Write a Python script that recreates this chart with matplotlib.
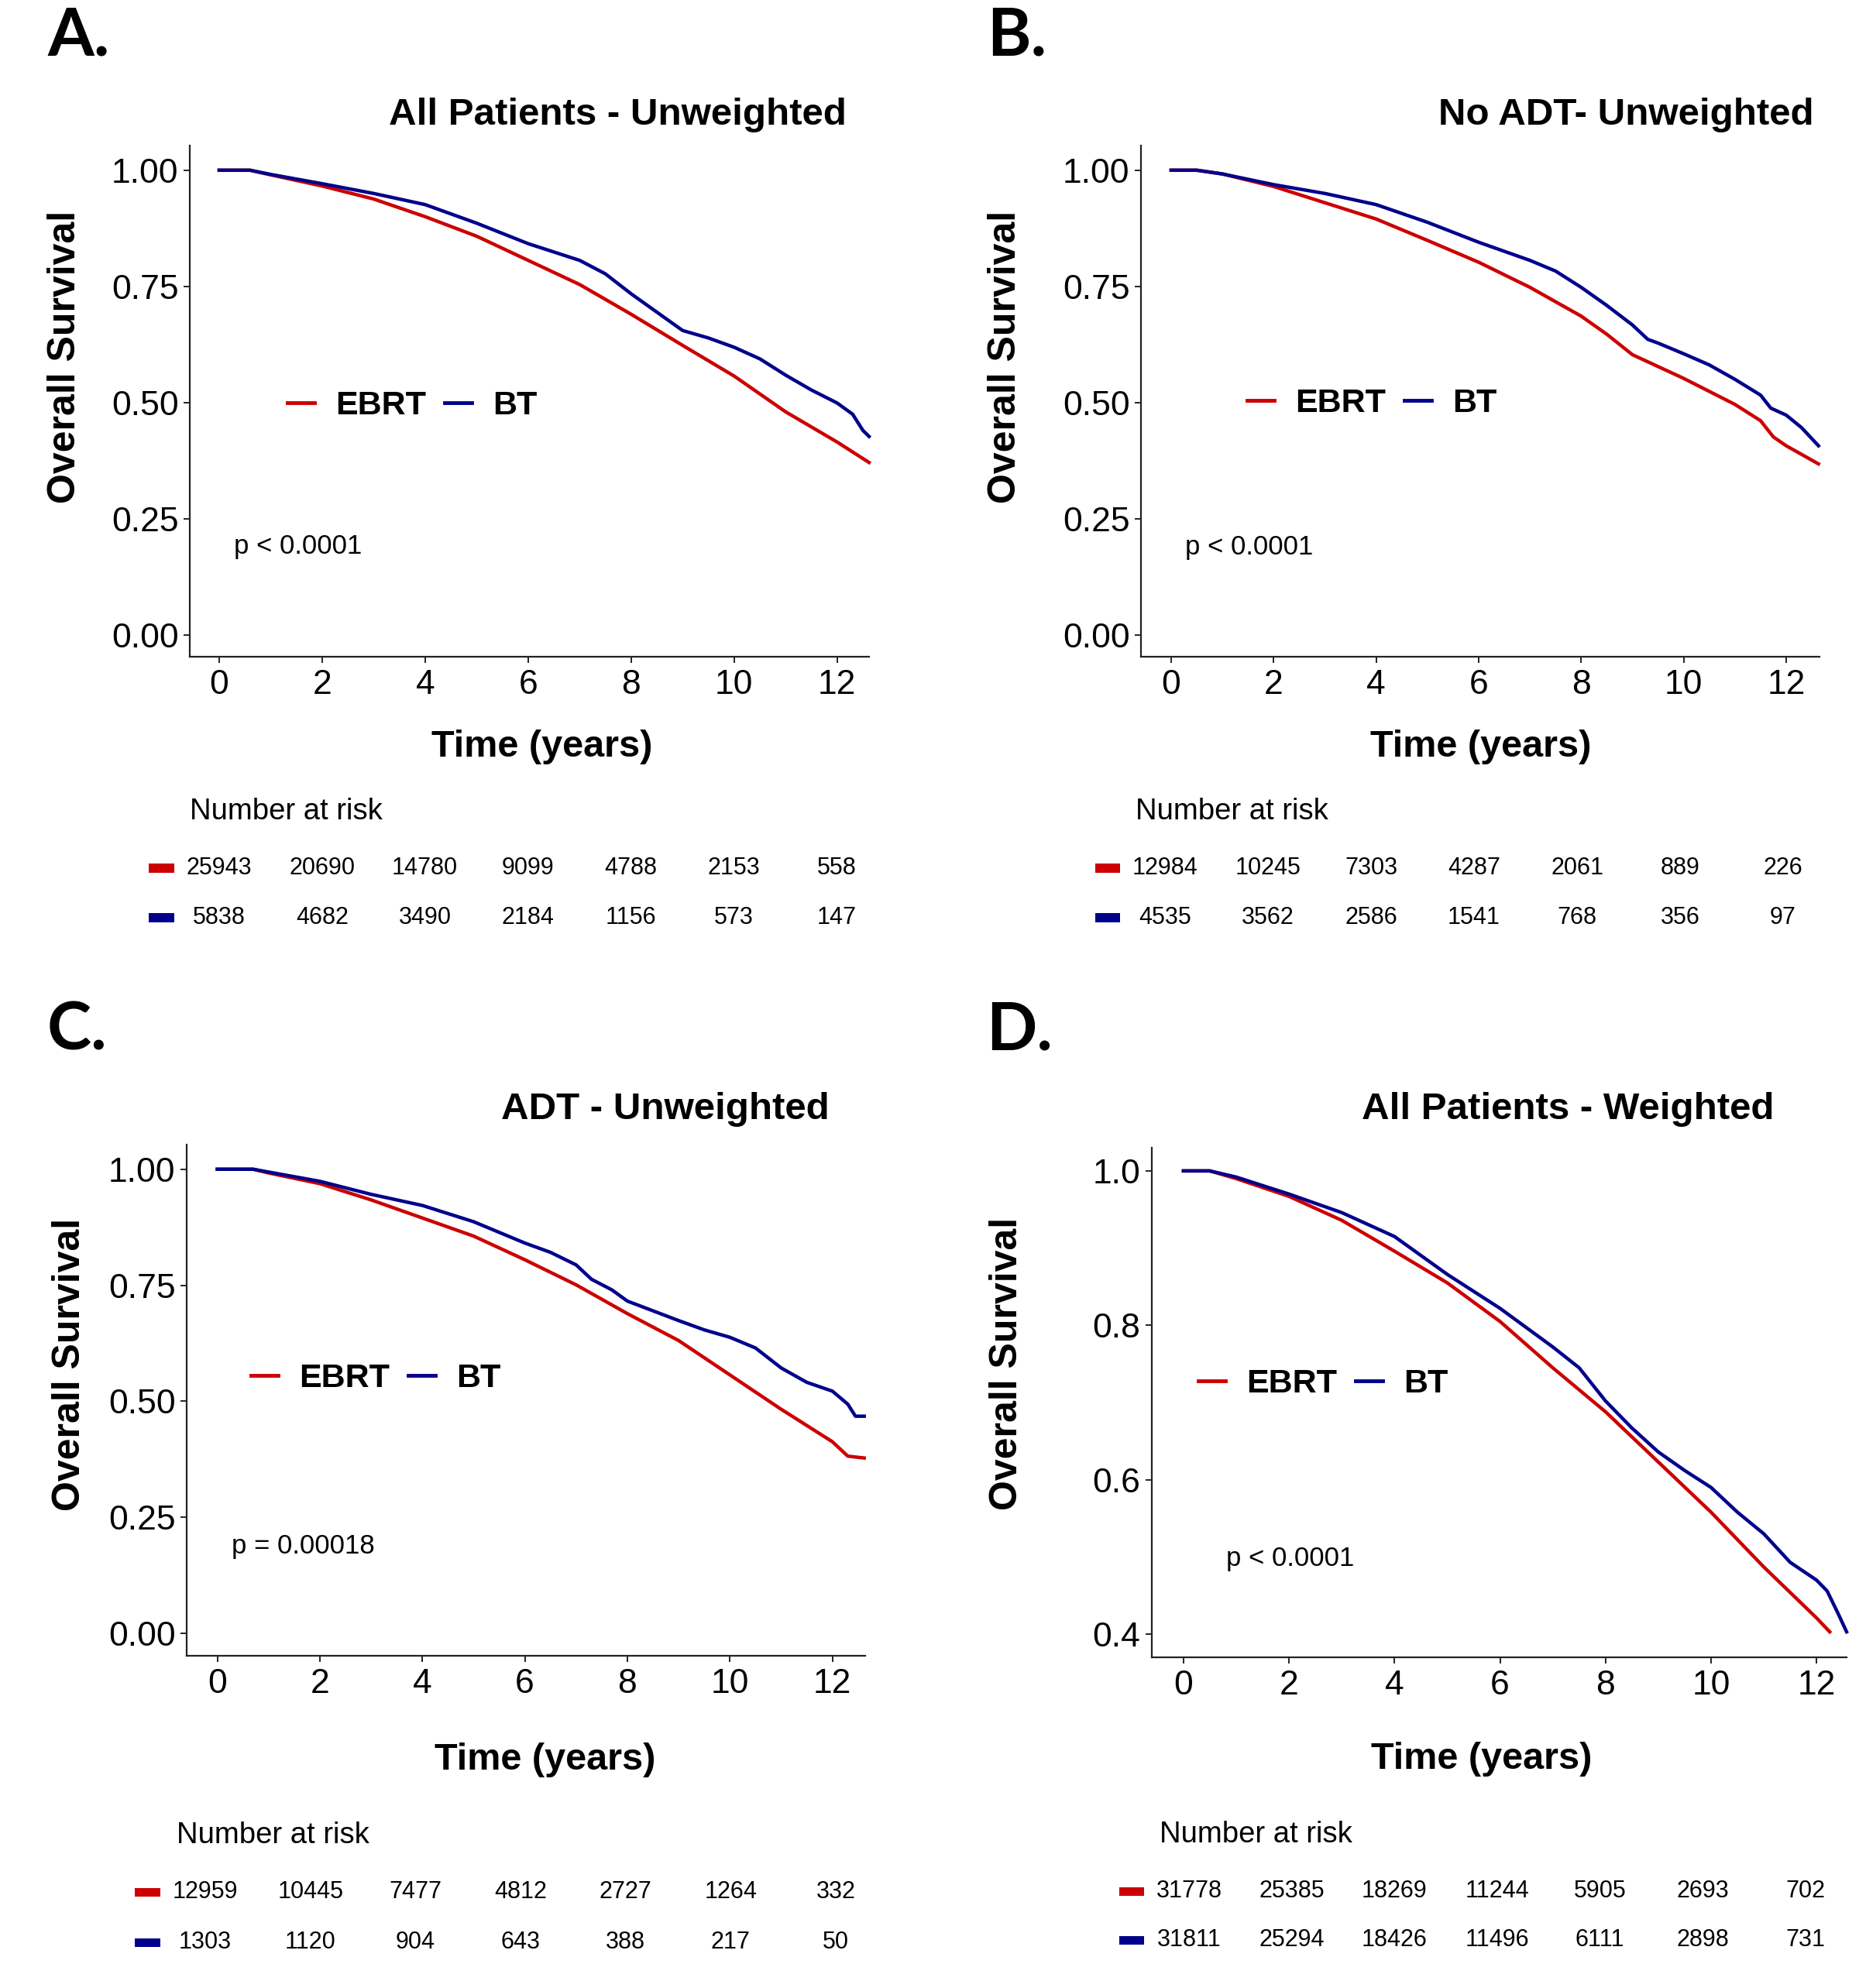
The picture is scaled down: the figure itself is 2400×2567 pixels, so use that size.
import matplotlib
matplotlib.use("Agg")
import matplotlib.pyplot as plt
from matplotlib.patches import Rectangle

# ---------------- data ----------------
risk_times = [0, 2, 4, 6, 8, 10, 12]
x_ticks = [0, 2, 4, 6, 8, 10, 12]
group_names = ["EBRT", "BT"]

titles = ["All Patients - Unweighted", "No ADT- Unweighted",
          "ADT - Unweighted", "All Patients - Weighted"]
panel_letters = ["A.", "B.", "C.", "D."]
p_texts = ["p < 0.0001", "p < 0.0001", "p = 0.00018", "p < 0.0001"]

yticks_unw = [0.00, 0.25, 0.50, 0.75, 1.00]
yticklabels_unw = ["0.00", "0.25", "0.50", "0.75", "1.00"]
yticks_w = [0.4, 0.6, 0.8, 1.0]
yticklabels_w = ["0.4", "0.6", "0.8", "1.0"]

# Panel A
A_ebrt_t = [0, 0.6, 1, 2, 3, 4, 5, 6, 7, 8, 9, 10, 11, 12, 12.62]
A_ebrt_s = [1, 1, 0.99, 0.966, 0.938, 0.90, 0.858, 0.806, 0.754, 0.69, 0.623, 0.557, 0.48, 0.415, 0.371]
A_bt_t = [0, 0.6, 1, 2, 3, 4, 5, 6, 7, 7.5, 8, 9, 9.5, 10, 10.5, 11, 11.5, 12, 12.3, 12.5, 12.62]
A_bt_s = [1, 1, 0.991, 0.971, 0.95, 0.926, 0.886, 0.842, 0.806, 0.777, 0.734, 0.655, 0.639, 0.619, 0.594,
          0.559, 0.527, 0.499, 0.475, 0.44, 0.427]
A_risk_ebrt = [25943, 20690, 14780, 9099, 4788, 2153, 558]
A_risk_bt = [5838, 4682, 3490, 2184, 1156, 573, 147]

# Panel B
B_ebrt_t = [0, 0.5, 1, 2, 3, 4, 5, 6, 7, 8, 8.5, 9, 10, 11, 11.5, 11.75, 12, 12.63]
B_ebrt_s = [1, 1, 0.992, 0.965, 0.93, 0.895, 0.849, 0.802, 0.748, 0.686, 0.647, 0.603, 0.552, 0.496,
            0.461, 0.426, 0.407, 0.368]
B_bt_t = [0, 0.5, 1, 2, 3, 4, 5, 6, 7, 7.5, 8, 8.5, 9, 9.3, 9.5, 10, 10.5, 11, 11.5, 11.7, 12, 12.3, 12.63]
B_bt_s = [1, 1, 0.992, 0.969, 0.95, 0.926, 0.888, 0.845, 0.806, 0.783, 0.748, 0.709, 0.667, 0.636,
          0.628, 0.605, 0.581, 0.550, 0.516, 0.488, 0.473, 0.446, 0.407]
B_risk_ebrt = [12984, 10245, 7303, 4287, 2061, 889, 226]
B_risk_bt = [4535, 3562, 2586, 1541, 768, 356, 97]

# Panel C
C_ebrt_t = [0, 0.7, 1, 2, 3, 4, 5, 6, 7, 8, 9, 10, 11, 11.5, 12, 12.3, 12.62]
C_ebrt_s = [1, 1, 0.992, 0.969, 0.934, 0.895, 0.856, 0.805, 0.751, 0.689, 0.631, 0.557, 0.483, 0.448,
            0.413, 0.382, 0.378]
C_bt_t = [0, 0.7, 1, 2, 3, 4, 5, 6, 6.5, 7, 7.3, 7.7, 8, 9, 9.5, 10, 10.5, 11, 11.5, 12, 12.3, 12.45, 12.62]
C_bt_s = [1, 1, 0.994, 0.974, 0.946, 0.922, 0.887, 0.841, 0.821, 0.794, 0.763, 0.740, 0.716, 0.674,
          0.654, 0.638, 0.615, 0.572, 0.541, 0.522, 0.494, 0.468, 0.468]
C_risk_ebrt = [12959, 10445, 7477, 4812, 2727, 1264, 332]
C_risk_bt = [1303, 1120, 904, 643, 388, 217, 50]

# Panel D
D_ebrt_t = [0, 0.5, 1, 2, 3, 4, 5, 6, 7, 8, 9, 10, 11, 12, 12.25]
D_ebrt_s = [1, 1, 0.990, 0.967, 0.936, 0.896, 0.855, 0.805, 0.745, 0.688, 0.623, 0.558, 0.487, 0.421, 0.403]
D_bt_t = [0, 0.5, 1, 2, 3, 4, 5, 6, 7, 7.5, 8, 8.5, 9, 9.5, 10, 10.5, 11, 11.5, 12, 12.2, 12.4, 12.57]
D_bt_s = [1, 1, 0.992, 0.970, 0.946, 0.915, 0.866, 0.822, 0.772, 0.745, 0.702, 0.667, 0.636, 0.612,
          0.590, 0.558, 0.530, 0.493, 0.470, 0.456, 0.428, 0.403]
D_risk_ebrt = [31778, 25385, 18269, 11244, 5905, 2693, 702]
D_risk_bt = [31811, 25294, 18426, 11496, 6111, 2898, 731]

curves = [
    ((A_ebrt_t, A_ebrt_s), (A_bt_t, A_bt_s)),
    ((B_ebrt_t, B_ebrt_s), (B_bt_t, B_bt_s)),
    ((C_ebrt_t, C_ebrt_s), (C_bt_t, C_bt_s)),
    ((D_ebrt_t, D_ebrt_s), (D_bt_t, D_bt_s)),
]
risks = [(A_risk_ebrt, A_risk_bt), (B_risk_ebrt, B_risk_bt),
         (C_risk_ebrt, C_risk_bt), (D_risk_ebrt, D_risk_bt)]

# ---------------- style / layout ----------------
RED = "#CC0000"
BLUE = "#00008B"
colors = [RED, BLUE]
FONT = ["Liberation Sans", "DejaVu Sans"]
plt.rcParams["font.family"] = FONT

W, H = 2400, 2567
fig = plt.figure(figsize=(W / 100, H / 100), dpi=100)
fig.patch.set_facecolor("white")


def fx(x):
    return x / W


def fy(y):
    return 1 - y / H


def add_ax(l, t, r, b):
    return fig.add_axes([l / W, 1 - b / H, (r - l) / W, (b - t) / H])


layout = [
    dict(box=(245, 188, 1122, 848), xlim=(-0.571, 12.62), ylim=(-0.047, 1.053),
         title=(797, 161), letter=(61, 72), ylab=(84, 461), xlab=(700, 977),
         ptxt=(302, 715), leg=(371, 524),
         risk_x=(283, 1080), risk_y=(1121, 1185), nar=(245, 1058), sw=(192, 225)),
    dict(box=(1473, 188, 2349, 848), xlim=(-0.589, 12.65), ylim=(-0.047, 1.053),
         title=(2099, 161), letter=(1274, 72), ylab=(1298, 461), xlab=(1912, 977),
         ptxt=(1530, 716), leg=(1610, 521),
         risk_x=(1504, 2302), risk_y=(1121, 1185), nar=(1466, 1058), sw=(1414, 1446)),
    dict(box=(241, 1478, 1117, 2138), xlim=(-0.597, 12.64), ylim=(-0.048, 1.053),
         title=(859, 1445), letter=(61, 1356), ylab=(90, 1762), xlab=(704, 2285),
         ptxt=(299, 2006), leg=(324, 1780),
         risk_x=(265, 1079), risk_y=(2443, 2508), nar=(228, 2380), sw=(174, 207)),
    dict(box=(1487, 1482, 2384, 2140), xlim=(-0.60, 12.57), ylim=(0.37, 1.03),
         title=(2024, 1445), letter=(1273, 1356), ylab=(1300, 1761), xlab=(1913, 2284),
         ptxt=(1583, 2022), leg=(1547, 1787),
         risk_x=(1535, 2331), risk_y=(2442, 2505), nar=(1497, 2379), sw=(1445, 1477)),
]

for i in range(4):
    L = layout[i]
    ax = add_ax(*L["box"])
    for g in range(2):
        t, s = curves[i][g]
        ax.plot(t, s, color=colors[g], lw=3.2, label=group_names[g], clip_on=False,
                zorder=3 + g)
    ax.set_xlim(*L["xlim"])
    ax.set_ylim(*L["ylim"])
    ax.set_xticks(x_ticks)
    ax.set_xticklabels([str(v) for v in x_ticks])
    if i < 3:
        ax.set_yticks(yticks_unw)
        ax.set_yticklabels(yticklabels_unw)
    else:
        ax.set_yticks(yticks_w)
        ax.set_yticklabels(yticklabels_w)
    for sp in ["top", "right"]:
        ax.spines[sp].set_visible(False)
    for sp in ["left", "bottom"]:
        ax.spines[sp].set_linewidth(1.6)
        ax.spines[sp].set_color("#222222")
    ax.tick_params(axis="both", labelsize=32, length=5.5, width=1.4, color="#222222",
                   labelcolor="black")
    ax.tick_params(axis="y", pad=5)
    ax.tick_params(axis="x", pad=6)

    leg = ax.legend(loc="center left", bbox_to_anchor=(fx(L["leg"][0]), fy(L["leg"][1])),
                    bbox_transform=fig.transFigure, ncol=2, frameon=False, borderpad=0,
                    borderaxespad=0, handlelength=0.82, handletextpad=0.62, columnspacing=0.55,
                    prop=dict(family=FONT, weight="bold", size=31))
    for h in leg.get_lines():
        h.set_linewidth(3.5)

    fig.text(fx(L["title"][0]), fy(L["title"][1]), titles[i], ha="center", va="baseline",
             fontsize=35.5, fontweight="bold")
    fig.text(fx(L["letter"][0]), fy(L["letter"][1]), panel_letters[i], ha="left", va="baseline",
             fontsize=62, fontweight="bold", family=["Lato", "DejaVu Sans"])
    fig.text(fx(L["ylab"][0]), fy(L["ylab"][1]), "Overall Survival", ha="center", va="center",
             rotation=90, fontsize=36, fontweight="bold")
    fig.text(fx(L["xlab"][0]), fy(L["xlab"][1]), "Time (years)", ha="center", va="baseline",
             fontsize=35, fontweight="bold")
    fig.text(fx(L["ptxt"][0]), fy(L["ptxt"][1]), p_texts[i], ha="left", va="baseline",
             fontsize=25)

    # risk table
    fig.text(fx(L["nar"][0]), fy(L["nar"][1]), "Number at risk", ha="left", va="baseline",
             fontsize=27.5)
    rx0, rx1 = L["risk_x"]
    ry_red, ry_blue = L["risk_y"]
    rax = add_ax(rx0, ry_red, rx1, ry_blue)
    rax.set_xlim(0, 12)
    rax.set_ylim(0, 1)
    rax.axis("off")
    for g, yv in enumerate([1, 0]):
        vals = risks[i][g]
        for tt, n in zip(risk_times, vals):
            rax.text(tt, yv, str(n), ha="center", va="center", fontsize=22, clip_on=False)
    sx0, sx1 = L["sw"]
    for g, yc in enumerate([ry_red, ry_blue]):
        fig.add_artist(Rectangle((fx(sx0), fy(yc + 5.5)), (sx1 - sx0) / W, 11 / H,
                                 transform=fig.transFigure, facecolor=colors[g],
                                 edgecolor="none"))

fig.savefig("out.png", dpi=100, facecolor="white")
